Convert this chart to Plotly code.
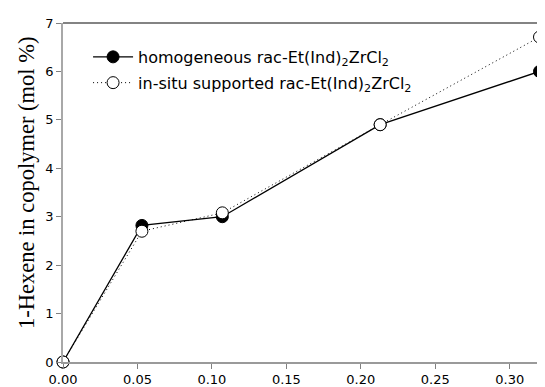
import plotly.graph_objects as go

x_vals = [0.0, 0.053, 0.107, 0.213, 0.32]
homogeneous = [0.0, 2.82, 3.0, 4.9, 6.0]
supported = [0.0, 2.7, 3.08, 4.9, 6.71]

name_homo = "homogeneous rac-Et(Ind)<sub>2</sub>ZrCl<sub>2</sub>"
name_supp = "in-situ supported rac-Et(Ind)<sub>2</sub>ZrCl<sub>2</sub>"
y_title = "1-Hexene in copolymer (mol %)"

x_ticks = [0.0, 0.05, 0.10, 0.15, 0.20, 0.25, 0.30]
x_ticktext = ["0.00", "0.05", "0.10", "0.15", "0.20", "0.25", "0.30"]
y_ticks = [0, 1, 2, 3, 4, 5, 6, 7]

fig = go.Figure()
fig.add_trace(go.Scatter(
    x=x_vals, y=homogeneous, mode="lines+markers", name=name_homo,
    line=dict(color="black", width=1.3),
    marker=dict(symbol="circle", size=12, color="black", line=dict(color="black", width=1)),
    cliponaxis=False, legendgroup="a",
))
fig.add_trace(go.Scatter(
    x=x_vals, y=supported, mode="lines+markers", name=name_supp,
    line=dict(color="black", width=1, dash="1px,3px"),
    marker=dict(symbol="circle", size=12, color="white", line=dict(color="black", width=1)),
    cliponaxis=False, legendgroup="b",
))

fig.update_layout(
    width=545, height=387,
    margin=dict(l=55, r=8, t=13, b=32),
    plot_bgcolor="white", paper_bgcolor="white",
    showlegend=True,
    legend=dict(x=0.052, y=0.95, xanchor="left", yanchor="top",
                font=dict(family="DejaVu Sans", size=16, color="black"),
                bgcolor="rgba(0,0,0,0)", tracegroupgap=2, itemwidth=40),
    xaxis=dict(range=[0, 0.3237], tickvals=x_ticks, ticktext=x_ticktext,
               showgrid=False, zeroline=False, showline=True, linecolor="#9a9a9a", linewidth=1.5,
               ticks="outside", ticklen=5, tickcolor="#808080", tickwidth=1,
               tickfont=dict(family="DejaVu Sans", size=13, color="black")),
    yaxis=dict(range=[0, 7], tickvals=y_ticks,
               showgrid=False, zeroline=False, showline=True, linecolor="#a8a8a8", linewidth=1.5,
               ticks="outside", ticklen=5, tickcolor="#808080", tickwidth=1,
               tickfont=dict(family="DejaVu Sans", size=13, color="black")),
    annotations=[dict(text=y_title, textangle=-90, xref="paper", yref="paper",
                      x=0, y=0.528, xanchor="center", yanchor="middle", xshift=-37,
                      showarrow=False,
                      font=dict(family="Liberation Serif", size=22.5, color="black"))],
    shapes=[dict(type="line", xref="paper", yref="paper", x0=0, x1=1, y0=1, y1=1,
                 line=dict(color="#5a5a5a", width=1.5))],
)

fig.write_html("out.html")
